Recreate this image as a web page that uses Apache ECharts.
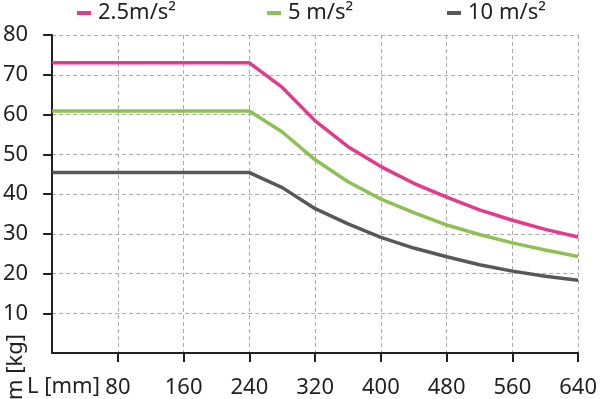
<!DOCTYPE html>
<html>
<head>
<meta charset="utf-8">
<script src="https://cdn.jsdelivr.net/npm/echarts@6/dist/echarts.min.js"></script>
<style>
html,body{margin:0;padding:0;background:#fff;}
#chart{width:600px;height:399px;}
</style>
</head>
<body>
<div id="chart"></div>
<script>
var lengths = [0, 240, 280, 320, 360, 400, 440, 480, 520, 560, 600, 640];
var mass25 = [73.0, 73.0, 66.8, 58.4, 51.9, 46.9, 42.7, 39.2, 36.0, 33.4, 31.1, 29.2];
var mass5  = [60.9, 60.9, 55.6, 48.6, 43.1, 38.7, 35.3, 32.2, 29.8, 27.7, 25.9, 24.3];
var mass10 = [45.4, 45.4, 41.6, 36.3, 32.5, 29.1, 26.4, 24.2, 22.2, 20.6, 19.3, 18.3];
var seriesNames = ['2.5m/s²', '5 m/s²', '10 m/s²'];
var xTitle = 'L [mm]';
var yTitle = 'm [kg]';

function pairs(ys){ return lengths.map(function(x,i){ return [x, ys[i]]; }); }

var font = 'Noto Sans';
var txt = '#231f20';
var colors = ['#e23b8c', '#8dc153', '#58585a'];

function legendAt(name, left){
  return {
    data: [name], left: left, top: 2, padding: 0,
    icon: 'rect', itemWidth: 14, itemHeight: 4, itemGap: 0,
    textStyle: {fontFamily: font, fontSize: 22, color: txt, padding: [0,0,0,2]}
  };
}

var chart = echarts.init(document.getElementById('chart'), null, {renderer: 'canvas'});
chart.setOption({
  animation: false,
  color: colors,
  legend: [legendAt(seriesNames[0], 77), legendAt(seriesNames[1], 267), legendAt(seriesNames[2], 447)],
  grid: {left: 50, right: 17, top: 35, bottom: 46, containLabel: false},
  xAxis: {
    type: 'value', min: 0, max: 640, interval: 80,
    axisLine: {show: true, lineStyle: {color: '#231f20', width: 2}},
    axisTick: {show: true, length: 9, lineStyle: {color: '#231f20', width: 2}},
    axisLabel: {showMinLabel: false, margin: 24, fontFamily: font, fontSize: 22, color: txt},
    splitLine: {show: true, lineStyle: {color: '#aaaaaa', width: 1, type: [4, 3]}}
  },
  yAxis: {
    type: 'value', min: 0, max: 80, interval: 10,
    axisLine: {show: true, lineStyle: {color: '#231f20', width: 2}},
    axisTick: {show: true, length: 9, lineStyle: {color: '#231f20', width: 2}},
    axisLabel: {showMinLabel: false, margin: 24, fontFamily: font, fontSize: 22, color: txt},
    splitLine: {show: true, lineStyle: {color: '#aaaaaa', width: 1, type: [4, 3]}}
  },
  graphic: [
    {type: 'text', x: 27, y: 387, style: {text: xTitle, fontFamily: font, fontSize: 22, fill: txt, align: 'left', verticalAlign: 'middle'}},
    {type: 'text', x: 16, y: 334, rotation: Math.PI/2, style: {text: yTitle, fontFamily: font, fontSize: 22, fill: txt, align: 'right', verticalAlign: 'middle'}}
  ],
  series: [
    {name: seriesNames[0], type: 'line', data: pairs(mass25), showSymbol: false, lineStyle: {width: 3.5, color: colors[0]}},
    {name: seriesNames[1], type: 'line', data: pairs(mass5), showSymbol: false, lineStyle: {width: 3.5, color: colors[1]}},
    {name: seriesNames[2], type: 'line', data: pairs(mass10), showSymbol: false, lineStyle: {width: 3.5, color: colors[2]}}
  ]
});
</script>
</body>
</html>
